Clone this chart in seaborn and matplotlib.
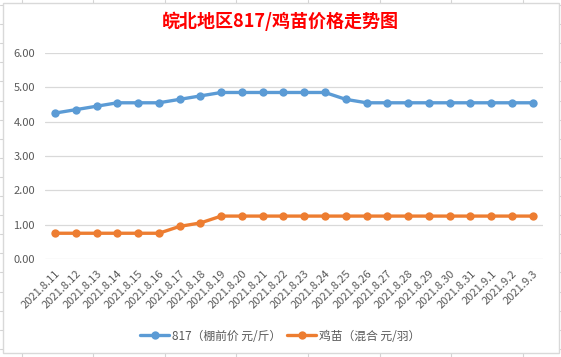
import numpy as np
import pandas as pd
import matplotlib
matplotlib.use('Agg')
import matplotlib.pyplot as plt
from matplotlib.patches import Rectangle
from matplotlib.lines import Line2D
import seaborn as sns

sns.set_style('white')
plt.rcParams['font.family'] = ['Noto Sans CJK SC', 'DejaVu Sans']

# data
dates = ['2021.8.11', '2021.8.12', '2021.8.13', '2021.8.14', '2021.8.15', '2021.8.16',
         '2021.8.17', '2021.8.18', '2021.8.19', '2021.8.20', '2021.8.21', '2021.8.22',
         '2021.8.23', '2021.8.24', '2021.8.25', '2021.8.26', '2021.8.27', '2021.8.28',
         '2021.8.29', '2021.8.30', '2021.8.31', '2021.9.1', '2021.9.2', '2021.9.3']
price_817 = [4.25, 4.35, 4.45, 4.55, 4.55, 4.55, 4.65, 4.75, 4.85, 4.85, 4.85, 4.85,
             4.85, 4.85, 4.65, 4.55, 4.55, 4.55, 4.55, 4.55, 4.55, 4.55, 4.55, 4.55]
price_chick = [0.75, 0.75, 0.75, 0.75, 0.75, 0.75, 0.95, 1.05, 1.25, 1.25, 1.25, 1.25,
               1.25, 1.25, 1.25, 1.25, 1.25, 1.25, 1.25, 1.25, 1.25, 1.25, 1.25, 1.25]
series_names = ['817（棚前价 元/斤）', '鸡苗（混合 元/羽）']
colors = ['#5B9BD5', '#ED7D31']
title = '皖北地区817/鸡苗价格走势图'

df = pd.DataFrame({
    'pos': list(range(len(dates))) * 2,
    'price': price_817 + price_chick,
    'series': [series_names[0]] * len(dates) + [series_names[1]] * len(dates),
})

W, H = 561, 357
fig = plt.figure(figsize=(W / 100, H / 100), dpi=100)

# spreadsheet grid behind the chart object
for gx in np.arange(21.5, W, 71.6):
    fig.add_artist(Line2D([gx / W, gx / W], [0, 1], color='#D4D4D4', lw=0.8, zorder=-3))
for gy in np.arange(5.0, H, 19.1):
    fig.add_artist(Line2D([0, 1], [1 - gy / H, 1 - gy / H], color='#D4D4D4', lw=0.8, zorder=-3))
fig.add_artist(Rectangle((2.5 / W, 1 - 353 / H), (559 - 2.5) / W, (353 - 2.5) / H,
                         facecolor='white', edgecolor='#D9D9D9', lw=1.0, zorder=-2))

ax = fig.add_axes([44.7 / W, 1 - 259 / H, (543 - 44.7) / W, (259 - 53) / H])
ax.set_facecolor('none')

sns.lineplot(data=df, x='pos', y='price', hue='series', palette=colors,
             marker='o', markersize=6, markeredgewidth=0, linewidth=2.4,
             ax=ax, legend=False)

ax.set_xlim(-0.5, len(dates) - 0.5)
ax.set_ylim(0, 6)
ax.set_yticks(np.arange(0, 6.01, 1))
ax.set_yticklabels([f'{v:.2f}' for v in np.arange(0, 6.01, 1)])
ax.set_xticks(range(len(dates)))
ax.set_xticklabels(dates, rotation=45, ha='right', rotation_mode='anchor')
ax.tick_params(axis='both', length=0, labelsize=8, labelcolor='#595959')
ax.tick_params(axis='y', pad=7)
ax.tick_params(axis='x', pad=7)
ax.grid(axis='y', color='#D9D9D9', lw=0.9)
ax.grid(axis='x', visible=False)
for s in ax.spines.values():
    s.set_visible(False)
ax.set_xlabel('')
ax.set_ylabel('')

fig.text(0.5, 1 - 21 / H, title, ha='center', va='center', color='#FF0000',
         fontsize=13, fontweight='bold')

handles = [Line2D([], [], color=c, lw=2.4, marker='o', markersize=6, markeredgewidth=0)
           for c in colors]
fig.legend(handles, series_names, loc='center', bbox_to_anchor=(0.5, 1 - 336 / H),
           ncol=2, frameon=False, fontsize=8.5, labelcolor='#595959',
           handlelength=2.4, columnspacing=0.5, handletextpad=0.3)

fig.savefig('out.png', dpi=100)
